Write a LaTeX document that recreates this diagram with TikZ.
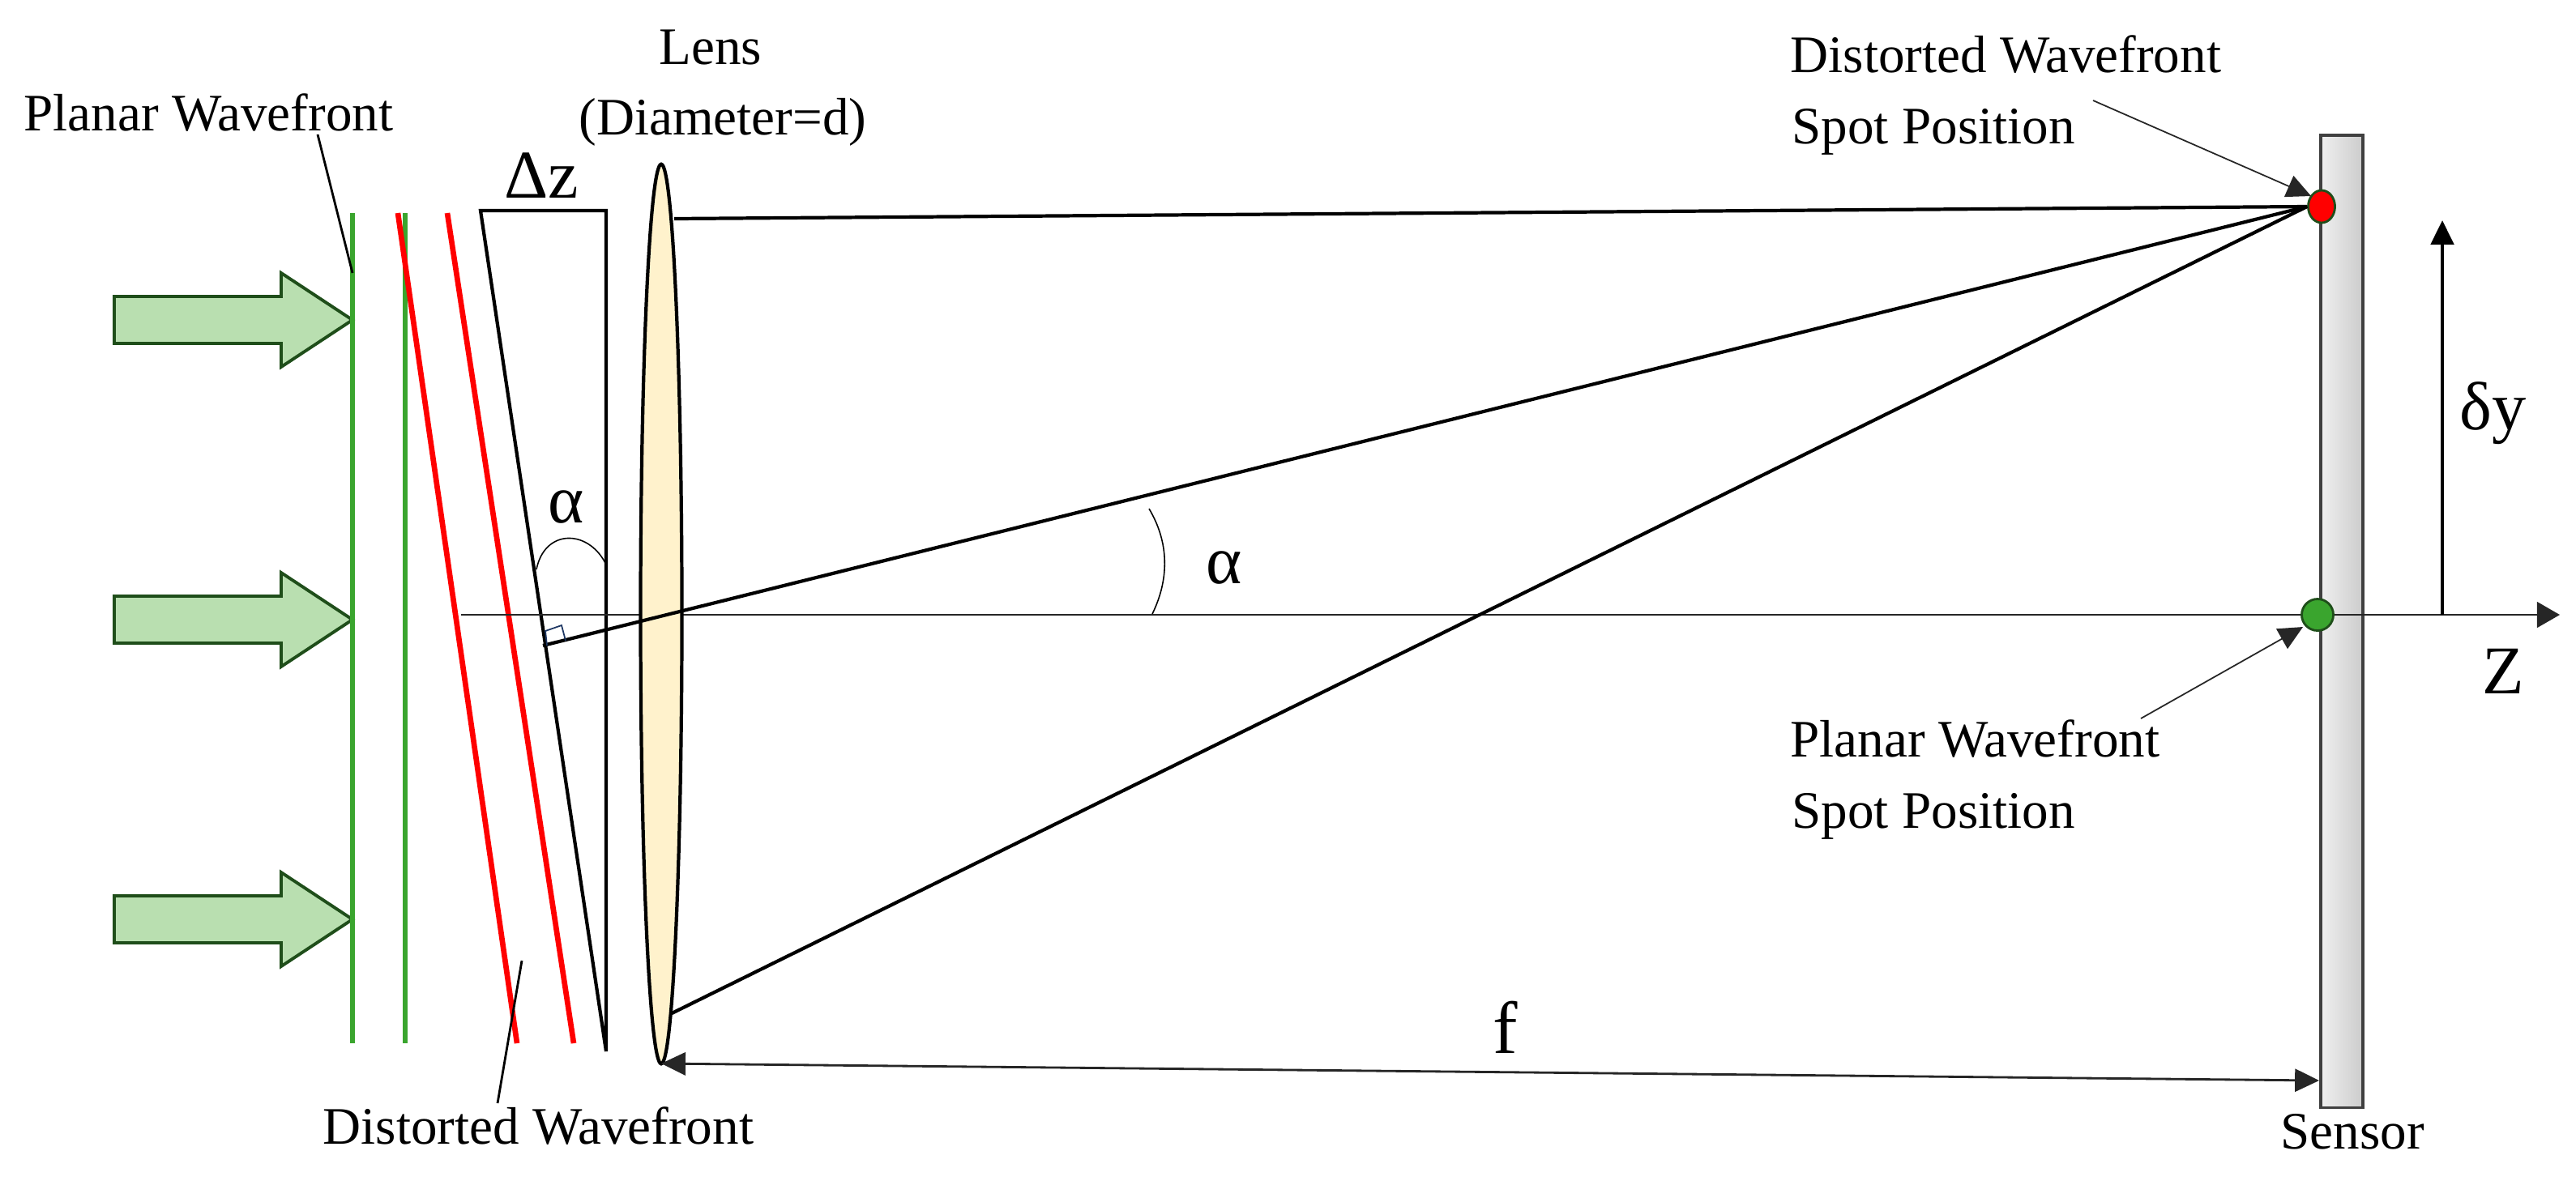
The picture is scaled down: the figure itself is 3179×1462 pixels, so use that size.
\documentclass[tikz,border=0pt]{standalone}
\usepackage{fontspec}
\setmainfont{Liberation Serif}
\usepackage{tikz}
\usetikzlibrary{shapes.geometric,arrows.meta}

\definecolor{arrowfill}{HTML}{B9DFB0}
\definecolor{arrowline}{HTML}{1F4E1A}
\definecolor{frontgreen}{HTML}{3AA52E}
\definecolor{lensfill}{HTML}{FFF2CC}
\definecolor{squareblue}{HTML}{1F3864}

\begin{document}
\begin{tikzpicture}%
    [x=0.01cm, y=-0.01cm,
    txt/.style={anchor=base west, inner sep=0pt, font=\fontsize{18.5pt}{20pt}\selectfont},
    bigtxt/.style={anchor=base west, inner sep=0pt, font=\fontsize{24pt}{26pt}\selectfont},
    front/.style={line width=1.9pt, draw=frontgreen},
    distort/.style={line width=1.9pt, draw=red},
    ray/.style={line width=1.2pt, draw=black},
    thinline/.style={line width=0.8pt, draw=black!85},
    leader/.style={line width=0.5pt, draw=black!85, -{Triangle[length=8.5pt,width=8pt]}},
    spot/.style={ellipse, draw=arrowline, line width=0.8pt, inner sep=0pt},
    blockarrow/.style={draw=arrowline, fill=arrowfill, line width=1.1pt}]

    \useasboundingbox (0,0) rectangle (3179,1462);

    % incoming arrows
    \foreach \y in {395,765,1135}
      \draw [blockarrow] (141,\y-29) -- (347,\y-29) -- (347,\y-58) -- (435,\y)
        -- (347,\y+58) -- (347,\y+29) -- (141,\y+29) -- cycle;

    % wavefronts
    \coordinate (g1top) at (435,263);
    \coordinate (g1bot) at (435,1288);
    \coordinate (g2top) at (500,263);
    \coordinate (g2bot) at (500,1288);
    \coordinate (r1top) at (491,263);
    \coordinate (r1bot) at (638,1288);
    \coordinate (r2top) at (552,263);
    \coordinate (r2bot) at (708,1288);
    \draw [front] (g1top) -- (g1bot);
    \draw [front] (g2top) -- (g2bot);
    \draw [distort] (r1top) -- (r1bot);
    \draw [distort] (r2top) -- (r2bot);

    % wedge
    \coordinate (wtl) at (593,260);
    \coordinate (wtr) at (748,260);
    \coordinate (wbot) at (748,1298);
    \draw [ray,line join=miter] (wbot) -- (wtl) -- (wtr) -- (wbot);
    \draw [line width=0.45pt] (662,703) .. controls (672,653) and (725,653) .. (747,695);

    % sensor
    \node [draw=black!75, line width=1pt, left color=black!6, right color=black!20,
      minimum width=0.52cm, minimum height=12cm, inner sep=0pt, anchor=north west] (sensor) at (2862,165) {};

    % axis
    \coordinate (axstart) at (569,759);
    \coordinate (axend) at (3159,759);
    \draw [thinline, -{Triangle[length=8pt,width=9pt]}] (axstart) -- (axend);

    % lens
    \node [ellipse, draw=black, fill=lensfill, line width=1.2pt, minimum width=0.51cm,
      minimum height=11.1cm, inner sep=0pt] (lens) at (816,758) {};

    % spots
    \node [spot, fill=frontgreen, minimum width=0.39cm, minimum height=0.39cm] (greenspot) at (2860,759) {};
    \node [spot, fill=red, minimum width=0.33cm, minimum height=0.40cm] (redspot) at (2865,255) {};

    % rays
    \coordinate (raytop) at (832,270);
    \coordinate (raymid) at (670,797);
    \coordinate (raybot) at (829,1251);
    \draw [ray] (raytop) -- (redspot.west);
    \draw [ray] (raymid) -- (redspot.west);
    \draw [ray] (raybot) -- (redspot.west);
    \draw [line width=0.5pt, draw=squareblue] (675,797) -- (673,779) -- (693,772) -- (698,791);
    \draw [line width=0.45pt] (1418,628) .. controls (1443,670) and (1443,715) .. (1422,758);

    % f and dy
    \coordinate (fleft) at (816,1313);
    \coordinate (fright) at (2862,1334);
    \draw [thinline, {Triangle[length=8.5pt,width=8pt]}-{Triangle[length=8.5pt,width=8pt]}] (fleft) -- (fright);
    \coordinate (dybot) at (3014,759);
    \coordinate (dytop) at (3014,272);
    \draw [line width=1.3pt, -{Triangle[length=8.5pt,width=8pt]}] (dybot) -- (dytop);

    % labels
    \node [txt] (planar) at (29,161) {Planar Wavefront};
    \node [txt] (lensname) at (813,79) {Lens};
    \node [txt] (diam) at (714,166) {(Diameter=d)};
    \node [bigtxt] (dz) at (622,244) {Δz};
    \node [bigtxt] (alphaa) at (676,645) {α};
    \node [bigtxt] (alphab) at (1488,720) {α};
    \node [txt] (distortlab) at (398,1412) {Distorted Wavefront};
    \node [txt] (redlaba) at (2209,89) {Distorted Wavefront};
    \node [txt] (redlabb) at (2211,177) {Spot Position};
    \node [txt] (greenlaba) at (2209,934) {Planar Wavefront};
    \node [txt] (greenlabb) at (2211,1022) {Spot Position};
    \node [txt] (sensorlab) at (2814,1418) {Sensor};
    \node [bigtxt] (dy) at (3035,530) {δy};
    \node [bigtxt] (zlab) at (3063,856) {Z};
    \node [bigtxt, font=\fontsize{26pt}{28pt}\selectfont] (flab) at (1842,1300) {f};

    % leaders
    \coordinate (pl1) at (392,166);
    \coordinate (pl2) at (435,337);
    \draw [thinline, draw=black] (pl1) -- (pl2);
    \coordinate (dl1) at (644,1186);
    \coordinate (dl2) at (614,1362);
    \draw [thinline, draw=black] (dl1) -- (dl2);
    \coordinate (rl1) at (2583,124);
    \coordinate (rl2) at (2852,242);
    \draw [leader] (rl1) -- (rl2);
    \coordinate (gl1) at (2642,887);
    \coordinate (gl2) at (2842,774);
    \draw [leader] (gl1) -- (gl2);
\end{tikzpicture}
\end{document}
